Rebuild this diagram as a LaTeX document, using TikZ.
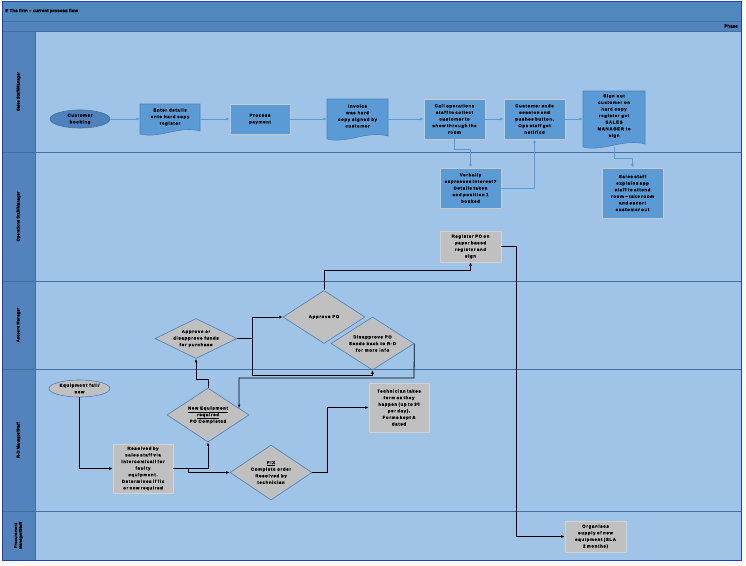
\documentclass[tikz,border=0pt]{standalone}
\usepackage{fontspec}
\usetikzlibrary{shapes.geometric,arrows.meta,calc}
\newfontfamily\lblfont[LetterSpace=16,BoldFeatures={FakeBold=1.2}]{Liberation Sans}
\newfontfamily\hdrfont[BoldFeatures={FakeBold=0.8}]{Liberation Sans}
\definecolor{titlebg}{HTML}{4F88BD}
\definecolor{hdr}{HTML}{5283BC}
\definecolor{lanebg}{HTML}{9FC4E7}
\definecolor{laneline}{HTML}{41719C}
\definecolor{boxblue}{HTML}{5B9BD5}
\definecolor{boxborder}{HTML}{C8C8C8}
\definecolor{greybox}{HTML}{C0C0C0}
\definecolor{gboxborder}{HTML}{D2D2D2}
\definecolor{ellblue}{HTML}{4F81BD}
\definecolor{ellborder}{HTML}{41719C}
\definecolor{diaborder}{HTML}{4A7EB5}
\definecolor{conblue}{HTML}{5B9BD5}
\definecolor{frameblue}{HTML}{1F3FC8}
\newcommand\bxfont{\lblfont\bfseries\fontsize{4.3}{6.6}\selectfont}
\newcommand\lnfont{\hdrfont\bfseries\fontsize{4.1}{4.8}\selectfont}
\newcommand\docpath[5]{%
  \filldraw[fill=boxblue,draw=ellblue,line width=0.6pt]
    ({#1-#3/2},{#2-#4/2}) -- ({#1+#3/2},{#2-#4/2}) -- ({#1+#3/2},{#2+#4/2-3})
    .. controls ({#1+#3/6},{#2+#4/2-9}) and ({#1-#3/6},{#2+#4/2+5}) .. ({#1-#3/2},{#2+#4/2}) -- cycle;
  \node[txt, text width={#3-6}, minimum width=#3, minimum height=#4] (#5) at (#1,#2) {};
}
\tikzset{
  txt/.style={inner sep=0pt, align=center, font=\bxfont, text=black},
  bbox/.style={draw=boxborder, fill=boxblue, line width=0.7pt, inner sep=2pt, align=center, font=\bxfont},
  gbox/.style={bbox, fill=greybox, draw=gboxborder},
  dia/.style={diamond, draw=diaborder, fill=greybox, inner sep=0pt, line width=0.6pt},
  bcon/.style={draw=conblue, line width=0.8pt, -{Latex[length=3.5pt,width=3pt]}},
  kcon/.style={draw=black, line width=0.8pt, -{Latex[length=3.5pt,width=3pt]}},
  lanelbl/.style={rotate=90, font=\lnfont, align=center, inner sep=0pt},
}
\begin{document}
\begin{tikzpicture}[x=1pt,y=-1pt]
\useasboundingbox (0,0) rectangle (746,565);
\fill[white] (0,0) rectangle (746,565);
% frame and lanes
\fill[titlebg] (2,1) rectangle (741,21);
\fill[hdr] (2,21) rectangle (741,31);
\fill[lanebg] (35,31) rectangle (741,560);
\fill[hdr] (2,31) rectangle (35,560);
\draw[laneline, line width=0.8pt] (2,21) -- (741,21);
\draw[laneline, line width=0.8pt] (2,31) -- (741,31);
\draw[laneline, line width=0.8pt] (35,31) -- (35,560);
\foreach \yy in {152,281,369,511} \draw[laneline, line width=1pt] (2,\yy) -- (741,\yy);
\draw[frameblue, line width=0.8pt] (2,1) rectangle (741,560);
\node[anchor=west, font=\hdrfont\bfseries\fontsize{4.6}{5}\selectfont, inner sep=0pt] (title) at (5,11) {E The firm – current process flow};
\node[anchor=east, font=\hdrfont\bfseries\fontsize{4.6}{5}\selectfont, inner sep=0pt] (phase) at (738,26) {Phase};
% lane labels
\node[lanelbl] (l1) at (18.5,91.5) {Sales Staff/Manager};
\node[lanelbl] (l2) at (18.5,216.5) {Operations Staff/Manager};
\node[lanelbl] (l3) at (18.5,325) {Account Manager};
\node[lanelbl] (l4) at (18.5,440) {R-D Manager/Staff};
\node[lanelbl] (l5) at (18.5,535.5) {Procurement\\Manager/Staff};
% lane 1
\node[ellipse, draw=ellborder, fill=ellblue, line width=0.6pt, minimum width=60pt, minimum height=18pt, inner sep=0pt] (book) at (80,119) {};
\node[txt] (bookt) at (book) {Customer\\booking};
\docpath{170}{119}{60}{30}{enter}
\node[txt] (entert) at (170,117) {Enter details\\onto hard copy\\register};
\node[bbox, text width=56pt, minimum height=30pt] (pay) at (260,119) {Process\\payment};
\docpath{357.5}{119}{61}{40}{inv}
\node[txt] (invt) at (357.5,116) {Invoice\\was hard\\copy signed by\\customer};
\node[bbox, text width=57pt, minimum height=40pt] (call) at (454.5,119) {Call operations\\staff to collect\\customer to\\show through the\\room};
\node[bbox, text width=57pt, minimum height=40pt] (cust) at (534.5,119) {Customer ends\\session and\\pushes button.\\Ops staff get\\notified};
\docpath{614}{119}{62}{56}{sign}
\node[txt] (signt) at (614,116) {Sign out\\customer on\\hard copy\\register get\\SALES\\MANAGER to\\sign};
% lane 2
\node[bbox, text width=57pt, minimum height=40pt] (verb) at (470.5,188) {Verbally\\expresses interest?\\Details taken\\and position 1\\booked};
\node[bbox, text width=57pt, minimum height=50pt] (sales) at (632.5,193) {Sales staff\\explains app\\staff to attend\\room – take room\\and escort\\customer out};
\node[gbox, text width=57pt, minimum height=31pt] (reg) at (470.5,246.5) {Register PO on\\paper based\\register and\\sign};
% lane 3
\node[dia, minimum width=82pt, minimum height=53pt] (apo) at (324,317) {};
\node[txt] (apot) at (apo) {Approve PO};
\node[dia, minimum width=83pt, minimum height=53pt] (dis) at (372.5,343.5) {};
\node[txt] (dist) at (dis) {Disapprove PO\\Sends back to R-D\\for more info};
\node[dia, minimum width=82pt, minimum height=40pt] (funds) at (196,338.5) {};
\node[txt] (fundst) at (funds) {Approve or\\disapprove funds\\for purchase};
% lane 4
\node[ellipse, draw=diaborder, fill=greybox, line width=0.6pt, minimum width=61pt, minimum height=17pt, inner sep=0pt] (equip) at (79.5,388.5) {};
\node[txt] (equipt) at (equip) {Equipment fail/\\new};
\node[dia, minimum width=82pt, minimum height=54pt] (neweq) at (208,415) {};
\node[txt] (neweqt) at (neweq) {\underline{New Equipment}\\\underline{required}\\PO Completed};
\node[gbox, text width=56pt, minimum height=49pt] (res) at (143,468.5) {Resolved by\\sales staff via\\intercom/call for\\faulty\\equipment.\\Determines if fix\\or new required};
\node[dia, minimum width=82pt, minimum height=55pt] (fix) at (271,472.5) {};
\node[txt] (fixt) at (fix) {\underline{FIX}\\Complete order\\Resolved by\\technician};
\node[gbox, text width=56pt, minimum height=49pt] (tech) at (399,407.5) {Technician takes\\form as they\\happen (up to 30\\per day).\\Forms kept \&\\dated};
% lane 5
\node[gbox, text width=57pt, minimum height=31pt] (org) at (595.5,536.5) {Organises\\supply of new\\equipment (SLA\\2 months)};
% blue connectors
\draw[bcon] (book.east) -- (enter.west);
\draw[bcon] (enter.east) -- (pay.west);
\draw[bcon] (pay.east) -- (inv.west);
\draw[bcon] (inv.east) -- (call.west);
\draw[bcon] (call.east) -- (cust.west);
\draw[bcon] (cust.east) -- (sign.west);
\draw[bcon] (call.south) -- ++(0,10) -| (verb.north);
\draw[bcon] (verb.east) -| (cust.south);
\draw[bcon] (sign.south) -- ++(0,11) -| (sales.north);
% black connectors
\coordinate (j1) at (188,468.5);
\coordinate (j2) at (252,338.5);
\coordinate (neweqedge) at ($(neweq.north)!0.75!(neweq.east)$);
\draw[kcon] (equip.south) |- (res.west);
\draw[kcon] (res.east) -| (neweq.south);
\draw[kcon] (j1) |- (fix.west);
\draw[kcon] (fix.east) -- ++(15,0) |- (tech.west);
\draw[kcon] (neweq.north) -- ++(0,-8) -| (funds.south);
\draw[kcon] (funds.east) -- (j2) |- (apo.west);
\draw[kcon] (j2) -- (252,375) -| (dis.south);
\draw[kcon] (dis.east) -- (414,378) -| (neweqedge);
\draw[kcon] (apo.north) -- ++(0,-19.5) -| (reg.south);
\draw[kcon] (reg.east) -- (516,246.5) |- (org.west);
\end{tikzpicture}
\end{document}
